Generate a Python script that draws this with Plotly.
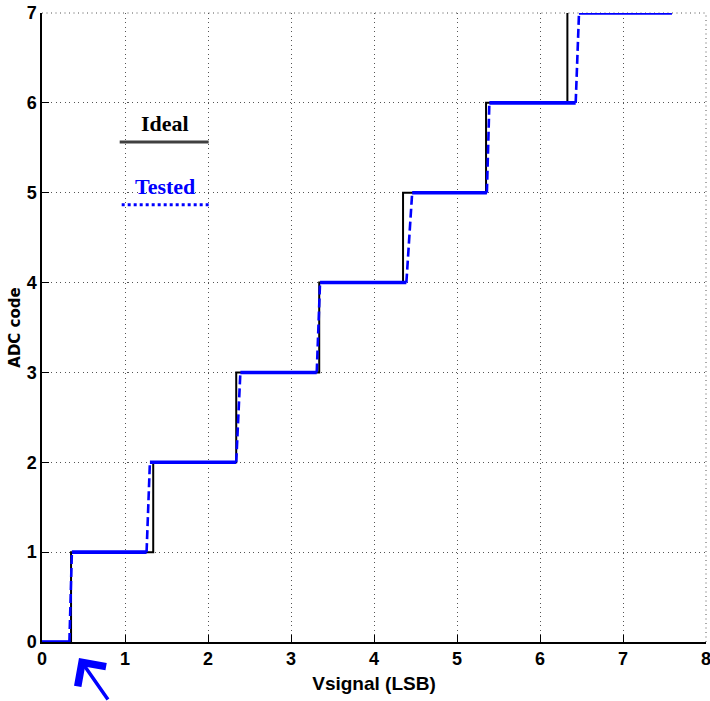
import plotly.graph_objects as go

# Ideal ADC transfer staircase (x in LSB, y = code)
ideal_x = [0, 0.35, 0.35, 1.34, 1.34, 2.34, 2.34, 3.34, 3.34, 4.35, 4.35, 5.35, 5.35, 6.33, 6.33]
ideal_y = [0, 0, 1, 1, 2, 2, 3, 3, 4, 4, 5, 5, 6, 6, 7]

# Tested ADC staircase
tested_x = [0, 0.33, 0.36, 1.26, 1.30, 2.34, 2.39, 3.31, 3.35, 4.39, 4.46, 5.36, 5.39, 6.43, 6.47, 7.59]
tested_y = [0, 0, 1, 1, 2, 2, 3, 3, 4, 4, 5, 5, 6, 6, 7, 7]

x_ticks = [0, 1, 2, 3, 4, 5, 6, 7, 8]
y_ticks = [0, 1, 2, 3, 4, 5, 6, 7]

BLUE = "#0000ff"
GRID = "#555555"

# split tested series into flat (solid-looking) and rising (dashed) parts
flat_x, flat_y, rise_x, rise_y = [], [], [], []
for i in range(len(tested_x) - 1):
    seg_x = [tested_x[i], tested_x[i + 1], None]
    seg_y = [tested_y[i], tested_y[i + 1], None]
    if tested_y[i] == tested_y[i + 1]:
        flat_x += seg_x
        flat_y += seg_y
    else:
        rise_x += seg_x
        rise_y += seg_y

fig = go.Figure()
fig.add_trace(go.Scatter(x=ideal_x, y=ideal_y, mode="lines",
                         line=dict(color="black", width=2), name="Ideal",
                         showlegend=False))
fig.add_trace(go.Scatter(x=rise_x, y=rise_y, mode="lines",
                         line=dict(color=BLUE, width=2.6, dash="9px,4px"),
                         showlegend=False, connectgaps=False))
fig.add_trace(go.Scatter(x=flat_x, y=flat_y, mode="lines",
                         line=dict(color=BLUE, width=3.6),
                         showlegend=False, connectgaps=False))

tickfont = dict(family="Liberation Sans Narrow, Arial Narrow, Liberation Sans",
                size=18, color="black", weight="bold")

fig.update_layout(
    width=710, height=701,
    margin=dict(l=42, r=4, t=13, b=59, autoexpand=False),
    paper_bgcolor="white", plot_bgcolor="white",
    showlegend=False,
    xaxis=dict(range=[0, 8], tickvals=x_ticks, ticktext=[str(v) for v in x_ticks],
               showgrid=True, gridcolor=GRID, gridwidth=1, griddash="1px,3.5px",
               showline=True, linecolor="black", linewidth=1.5, mirror=False,
               ticks="inside", ticklen=7, tickcolor="black", tickwidth=1,
               zeroline=False, tickfont=tickfont, ticklabeloverflow="allow",
               automargin=False,
               title=dict(text="Vsignal (LSB)", standoff=8,
                          font=dict(family="Liberation Sans Narrow, Arial Narrow, Liberation Sans",
                                    size=19, color="black", weight="bold"))),
    yaxis=dict(range=[0, 7], tickvals=y_ticks, ticktext=[str(v) for v in y_ticks],
               showgrid=True, gridcolor=GRID, gridwidth=1, griddash="1px,3.5px",
               showline=True, linecolor="black", linewidth=1.5, mirror=False,
               ticks="inside", ticklen=7, tickcolor="black", tickwidth=1,
               zeroline=False, tickfont=tickfont, ticklabeloverflow="allow",
               automargin=False,
               title=dict(text="ADC code", standoff=2,
                          font=dict(family="DejaVu Sans, Verdana", size=15,
                                    color="black", weight="bold"))),
)

# dotted grid along the top and right edges of the plot area
fig.add_shape(type="line", xref="paper", yref="paper", x0=0, x1=1, y0=1, y1=1,
              line=dict(color=GRID, width=1, dash="1px,3.5px"), layer="below")
fig.add_shape(type="line", xref="paper", yref="paper", x0=1, x1=1, y0=0, y1=1,
              line=dict(color=GRID, width=1, dash="1px,3.5px"), layer="below")

# In-plot legend (text above line samples)
serif = "Liberation Serif, Times New Roman, serif"
fig.add_annotation(xref="paper", yref="paper", x=0.185, y=0.825, text="Ideal",
                   xanchor="center", yanchor="middle",
                   showarrow=False, font=dict(family=serif, size=22, color="black", weight="bold"))
fig.add_annotation(xref="paper", yref="paper", x=0.185, y=0.724, text="Tested",
                   xanchor="center", yanchor="middle",
                   showarrow=False, font=dict(family=serif, size=22, color=BLUE, weight="bold"))
fig.add_shape(type="line", xref="paper", yref="paper", x0=0.117, x1=0.251, y0=0.795, y1=0.795,
              line=dict(color="#404040", width=3))
fig.add_shape(type="line", xref="paper", yref="paper", x0=0.120, x1=0.251, y0=0.695, y1=0.695,
              line=dict(color=BLUE, width=3, dash="dot"))

# Blue arrow pointing at the first transition
fig.add_annotation(xref="paper", yref="paper", x=0.0557, y=-0.0254, text="",
                   showarrow=True, arrowhead=4, arrowsize=1.9, arrowwidth=3.5,
                   arrowcolor=BLUE, ax=30, ay=48, standoff=0)

fig.write_html("out.html")
